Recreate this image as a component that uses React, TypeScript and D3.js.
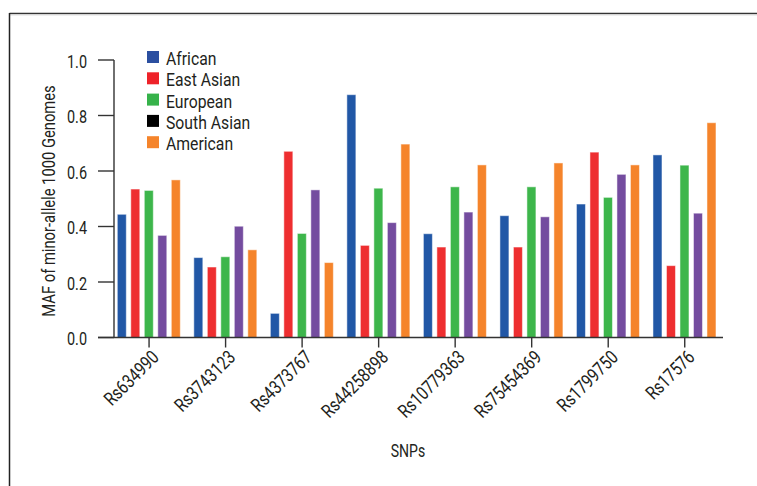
import React from "react";
import * as d3 from "d3";

const snps = ["Rs634990", "Rs3743123", "Rs4373767", "Rs44258898", "Rs10779363", "Rs75454369", "Rs1799750", "Rs17576"];
const african = [0.444, 0.288, 0.087, 0.875, 0.374, 0.439, 0.481, 0.658];
const eastAsian = [0.535, 0.254, 0.671, 0.332, 0.326, 0.326, 0.668, 0.259];
const european = [0.530, 0.291, 0.375, 0.538, 0.543, 0.543, 0.505, 0.621];
const southAsian = [0.368, 0.401, 0.532, 0.414, 0.452, 0.435, 0.588, 0.448];
const american = [0.568, 0.316, 0.270, 0.697, 0.622, 0.629, 0.622, 0.774];

const seriesNames = ["African", "East Asian", "European", "South Asian", "American"];
const seriesValues = [african, eastAsian, european, southAsian, american];
const barColors = ["#2157a6", "#ee2e30", "#3db64b", "#744c9f", "#f5842b"];
const legendColors = ["#2b4fa0", "#ee2229", "#36b24a", "#000000", "#f5842b"];
const yTicks = [0, 0.2, 0.4, 0.6, 0.8, 1.0];

const FONT = "Roboto, 'Liberation Sans', sans-serif";
const W = 757;
const H = 486;
const INK = "#231f20";

// Condensed label: horizontal squeeze applied after positioning/rotation
function CText(props: {
  x: number;
  y: number;
  rotate?: number;
  sx: number;
  size: number;
  anchor?: "start" | "middle" | "end";
  dy?: string;
  children: React.ReactNode;
}) {
  const { x, y, rotate = 0, sx, size, anchor = "start", dy, children } = props;
  return (
    <text
      transform={`translate(${x},${y}) rotate(${rotate}) scale(${sx},1)`}
      textAnchor={anchor}
      fontSize={size}
      dy={dy}
      fill={INK}
    >
      {children}
    </text>
  );
}

export default function App() {
  const x = d3.scaleBand<string>().domain(snps).range([110.8, 723]).padding(0);
  const inner = d3
    .scaleBand<string>()
    .domain(seriesNames)
    .range([4.25, 71.75])
    .paddingInner(1 / 3)
    .paddingOuter(1 / 6);
  const y = d3.scaleLinear().domain([0, 1]).range([337.5, 60]);
  const axisColor = "#333";
  const fmt = d3.format(".1f");

  return (
    <svg
      width={W}
      height={H}
      style={{ position: "absolute", left: 0, top: 0, background: "#fff" }}
      fontFamily={FONT}
    >
      {/* frame */}
      <line x1={9.5} x2={W} y1={13.5} y2={13.5} stroke="#333" strokeWidth={1.5} />
      <line x1={9.5} x2={W} y1={15} y2={15} stroke="#ddd" strokeWidth={1} />
      <line x1={9.5} x2={9.5} y1={13} y2={486} stroke="#222" strokeWidth={1.5} />

      {/* bars */}
      {snps.map((snp, i) => (
        <g key={snp} transform={`translate(${x(snp)},0)`}>
          {seriesNames.map((name, s) => {
            const v = seriesValues[s][i];
            return (
              <rect
                key={name}
                x={inner(name)}
                y={y(v)}
                width={inner.bandwidth()}
                height={y(0) - y(v)}
                fill={barColors[s]}
                stroke="#fff"
                strokeOpacity={0.5}
                strokeWidth={1}
              />
            );
          })}
        </g>
      ))}

      {/* y axis */}
      <line x1={114} x2={114} y1={y(1)} y2={y(0)} stroke={axisColor} strokeWidth={1.4} />
      {yTicks.map((t) => (
        <g key={t}>
          <line x1={98} x2={114} y1={y(t)} y2={y(t)} stroke={axisColor} strokeWidth={1.4} />
          <CText x={87} y={y(t)} dy="0.4em" anchor="end" size={19} sx={0.76}>
            {fmt(t)}
          </CText>
        </g>
      ))}

      {/* x axis */}
      <line x1={98} x2={723} y1={y(0)} y2={y(0)} stroke={axisColor} strokeWidth={1.4} />
      {snps.map((snp) => {
        const cx = (x(snp) as number) + x.bandwidth() / 2;
        return (
          <g key={snp}>
            <line x1={cx} x2={cx} y1={y(0)} y2={y(0) + 10} stroke={axisColor} strokeWidth={1.4} />
            <CText x={cx + 11} y={y(0) + 21} rotate={-45} anchor="end" size={19} sx={0.8}>
              {snp}
            </CText>
          </g>
        );
      })}

      {/* axis titles */}
      <CText x={55} y={201} rotate={-90} anchor="middle" size={18} sx={0.82}>
        MAF of minor-allele 1000 Genomes
      </CText>
      <CText x={408} y={457} anchor="middle" size={19} sx={0.74}>
        SNPs
      </CText>

      {/* legend */}
      {seriesNames.map((name, s) => (
        <g key={name}>
          <rect x={147} y={51 + s * 21.3} width={12} height={12} fill={legendColors[s]} />
          <CText x={166} y={51 + s * 21.3 + 14} size={19} sx={0.83}>
            {name}
          </CText>
        </g>
      ))}
    </svg>
  );
}
